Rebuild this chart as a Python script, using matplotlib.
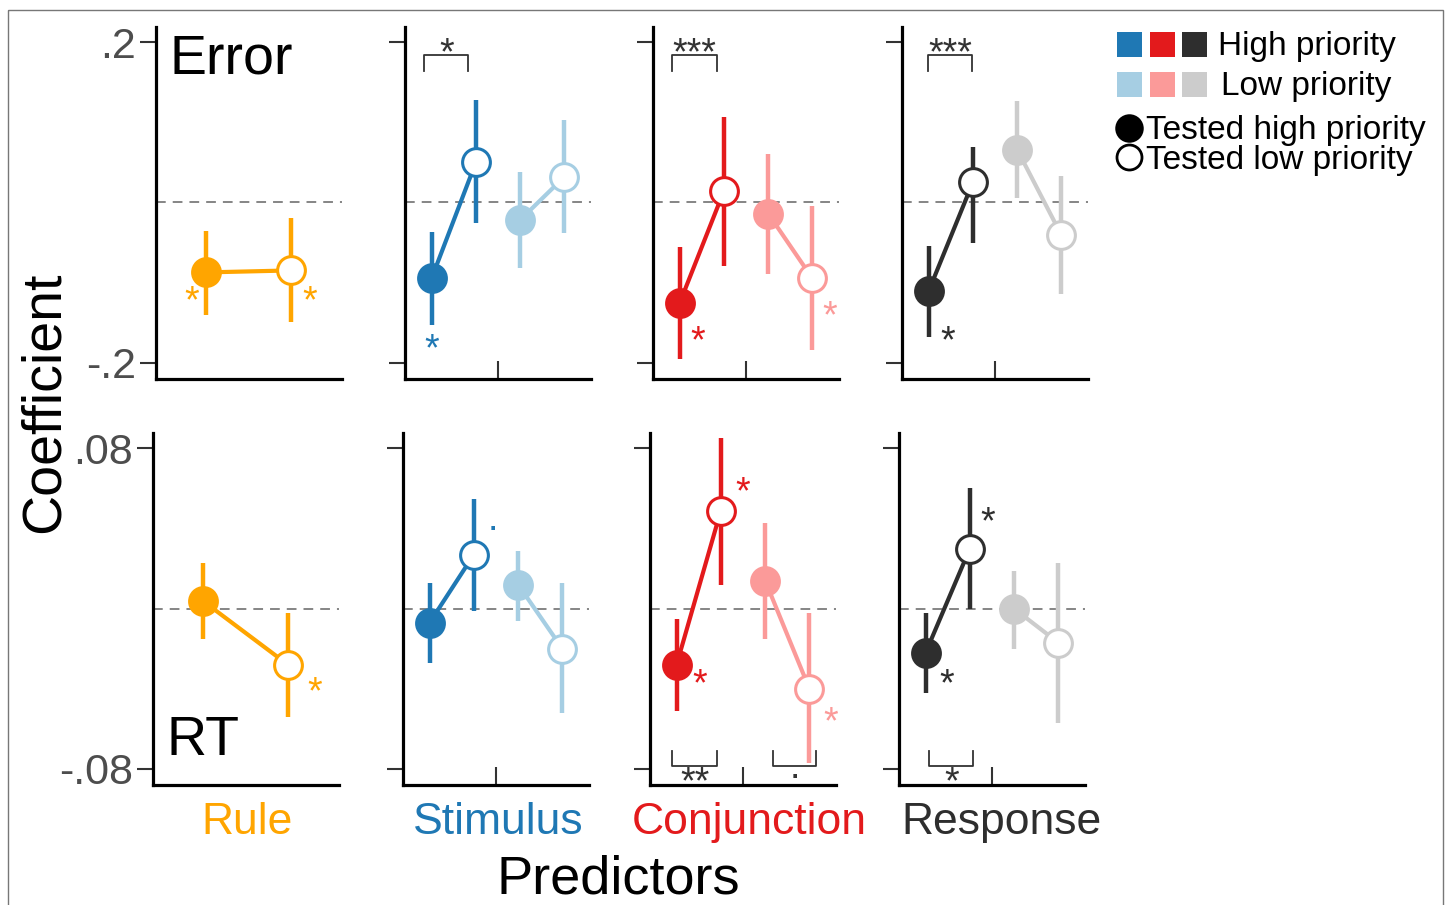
import matplotlib
matplotlib.use("Agg")
import matplotlib.pyplot as plt
from matplotlib.patches import Rectangle

plt.rcParams['font.family'] = ['Liberation Sans', 'DejaVu Sans']

W, H = 1448, 905

predictors = ['Rule', 'Stimulus', 'Conjunction', 'Response']
pred_label_x = [247, 498, 749, 1001]   # label centres, px

# order inside each predictor: high-tested-high, high-tested-low, low-tested-high, low-tested-low
x_rule = [1.52, 3.45]
x_four = [1, 2, 3, 4]

error_mean = [[-0.0875, -0.085],
              [-0.095, 0.050, -0.022, 0.032],
              [-0.126, 0.014, -0.014, -0.095],
              [-0.111, 0.025, 0.066, -0.041]]
error_lo = [[-0.141, -0.149],
            [-0.153, -0.026, -0.082, -0.038],
            [-0.196, -0.079, -0.089, -0.185],
            [-0.168, -0.051, 0.005, -0.114]]
error_hi = [[-0.036, -0.020],
            [-0.037, 0.128, 0.038, 0.103],
            [-0.056, 0.107, 0.060, -0.005],
            [-0.054, 0.069, 0.126, 0.033]]

rt_mean = [[0.004, -0.028],
           [-0.007, 0.027, 0.012, -0.020],
           [-0.028, 0.049, 0.014, -0.040],
           [-0.022, 0.030, 0.000, -0.017]]
rt_lo = [[-0.015, -0.054],
         [-0.027, -0.001, -0.006, -0.052],
         [-0.051, 0.012, -0.015, -0.077],
         [-0.042, 0.000, -0.020, -0.057]]
rt_hi = [[0.023, -0.002],
         [0.013, 0.055, 0.029, 0.013],
         [-0.005, 0.085, 0.043, -0.002],
         [-0.002, 0.060, 0.019, 0.023]]

high_cols = ['#FFA500', '#1F78B4', '#E31A1C', '#2E2E2E']
low_cols = ['#FFA500', '#A6CEE3', '#FB9A99', '#CCCCCC']

# significance marks next to points: (panel, x, y, text, colour key)
error_stars = [(0, 1.21, -0.116, '*', 'h'), (0, 3.88, -0.116, '*', 'h'),
               (1, 1.0, -0.176, '*', 'h'),
               (2, 1.42, -0.166, '*', 'h'), (2, 4.4, -0.135, '*', 'l'),
               (3, 1.44, -0.166, '*', 'h')]
rt_stars = [(0, 4.06, -0.039, '*', 'h'),
            (1, 2.43, 0.040, '.', 'h'),
            (2, 2.5, 0.061, '*', 'h'), (2, 1.52, -0.035, '*', 'h'), (2, 4.47, -0.0536, '*', 'l'),
            (3, 2.41, 0.046, '*', 'h'), (3, 1.48, -0.035, '*', 'h')]

# comparison brackets: (panel, x0, x1, text)
error_brackets = [(1, 0.83, 1.83, '*'), (2, 0.83, 1.85, '***'), (3, 0.99, 1.99, '***')]
rt_brackets = [(2, 0.9, 1.92, '**'), (2, 3.17, 4.15, '.'), (3, 1.08, 2.08, '*')]

STAR_FS = 27
GLYPH_MID = {'*': 0.45, '.': 0.05}


def mark(ax, x, y, s, color):
    ax.annotate(s, (x, y), xytext=(0, -GLYPH_MID[s[0]] * STAR_FS),
                textcoords='offset points', ha='center', va='baseline',
                fontsize=STAR_FS, color=color, annotation_clip=False)


def draw_row(axes, means, los, his, stars, brackets, br_y, br_tip, br_text_y):
    for i, ax in enumerate(axes):
        ax.axhline(0, color='#858585', lw=1.4, dashes=(5, 3.6), zorder=1)
        xs = x_rule if i == 0 else x_four
        m, lo, hi = means[i], los[i], his[i]
        groups = [(0, 2, high_cols[i])]
        if i > 0:
            groups.append((2, 4, low_cols[i]))
        for a, b, c in groups:
            ax.plot(xs[a:b], m[a:b], color=c, lw=3, zorder=2, clip_on=False)
            ax.vlines(xs[a:b], lo[a:b], hi[a:b], color=c, lw=3.2, zorder=2)
            ax.plot(xs[a], m[a], 'o', ms=20, mfc=c, mec=c, mew=2.2, zorder=3, clip_on=False)
            ax.plot(xs[a + 1], m[a + 1], 'o', ms=20, mfc='white', mec=c, mew=2.2,
                    zorder=3, clip_on=False)
    for p, x, y, s, k in stars:
        mark(axes[p], x, y, s, high_cols[p] if k == 'h' else low_cols[p])
    for p, x0, x1, s in brackets:
        ax = axes[p]
        ax.plot([x0, x0, x1, x1], [br_tip, br_y, br_y, br_tip], color='#333333', lw=1.3,
                clip_on=False)
        mark(ax, (x0 + x1) / 2, br_text_y, s, '#333333')


fig = plt.figure(figsize=(W / 100, H / 100), dpi=100)

# border
ov = fig.add_axes([0, 0, 1, 1], zorder=-1)
ov.set_xlim(0, W)
ov.set_ylim(H, 0)
ov.axis('off')
ov.add_patch(Rectangle((8, 10), 1435, 920, fill=False, ec='#777777', lw=1))

top_lefts = [156, 405, 653, 902]
bot_lefts = [153, 403, 650, 899]
ax_w = 186


def make_axes(lefts, y_top, y_bot, ylim, yticks, ylabels):
    axes = []
    for i, l in enumerate(lefts):
        ax = fig.add_axes([l / W, 1 - y_bot / H, ax_w / W, (y_bot - y_top) / H])
        ax.set_xlim(0.4, 4.6)
        ax.set_ylim(*ylim)
        for s in ['top', 'right']:
            ax.spines[s].set_visible(False)
        for s in ['left', 'bottom']:
            ax.spines[s].set_linewidth(2.3)
            ax.spines[s].set_color('black')
        ax.set_yticks(yticks)
        ax.set_yticklabels(ylabels if i == 0 else [])
        ax.tick_params(axis='y', direction='out', length=11.5, width=1.5, color='#333333',
                       labelsize=31, labelcolor='#4d4d4d', pad=3)
        if i == 0:
            ax.set_xticks([])
        else:
            ax.set_xticks([2.5])
            ax.set_xticklabels([])
            ax.tick_params(axis='x', direction='in', length=13, width=1.5, color='#333333')
        ax.patch.set_visible(False)
        axes.append(ax)
    return axes


top_axes = make_axes(top_lefts, 27, 379, (-0.2206, 0.219), [-0.2, 0.2], ['-.2', '.2'])
bot_axes = make_axes(bot_lefts, 433, 785, (-0.088, 0.0877), [-0.08, 0.08], ['-.08', '.08'])

draw_row(top_axes, error_mean, error_lo, error_hi, error_stars, error_brackets,
         0.184, 0.164, 0.194)
draw_row(bot_axes, rt_mean, rt_lo, rt_hi, rt_stars, rt_brackets,
         -0.0786, -0.0708, -0.0838)

top_axes[0].text(0.07, 0.869, 'Error', transform=top_axes[0].transAxes, fontsize=40,
                 ha='left', va='baseline')
bot_axes[0].text(0.07, 0.085, 'RT', transform=bot_axes[0].transAxes, fontsize=40,
                 ha='left', va='baseline')

for name, xc, c in zip(predictors, pred_label_x, high_cols):
    fig.text(xc / W, 1 - 834 / H, name, color=c, fontsize=32, ha='center', va='baseline')
fig.text(618 / W, 1 - 893 / H, 'Predictors', fontsize=39, ha='center', va='baseline')
fig.text(45 / W, 1 - 402 / H, 'Coefficient', fontsize=40, rotation=90,
         ha='center', va='center')

# legend
sq_x = [1117, 1150, 1182]
for j in range(3):
    ov.add_patch(Rectangle((sq_x[j], 32), 25, 25, color=high_cols[j + 1], lw=0))
    ov.add_patch(Rectangle((sq_x[j], 72), 25, 25, color=low_cols[j + 1], lw=0))
ov.text(1218, 46, 'High priority', fontsize=24, ha='left', va='center')
ov.text(1221, 86, 'Low priority', fontsize=24, ha='left', va='center')
ov.plot(1129, 128, 'o', ms=19, mfc='black', mec='black', mew=1.5)
ov.plot(1129, 157, 'o', ms=18, mfc='white', mec='black', mew=2)
ov.text(1146, 131, 'Tested high priority', fontsize=24, ha='left', va='center')
ov.text(1146, 160, 'Tested low priority', fontsize=24, ha='left', va='center')

fig.savefig('out.png', dpi=100, facecolor='white')
